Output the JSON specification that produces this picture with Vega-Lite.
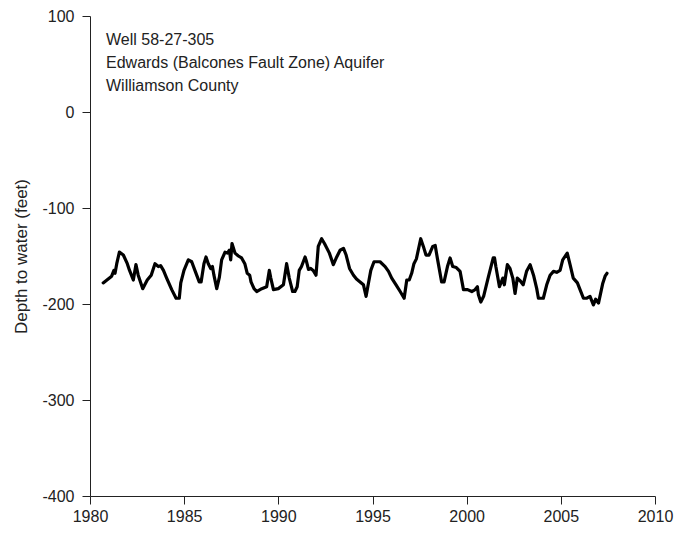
{
  "$schema": "https://vega.github.io/schema/vega-lite/v6.json",
  "width": 565,
  "height": 480,
  "autosize": {"type": "none"},
  "padding": {"left": 90, "top": 16, "right": 24, "bottom": 39},
  "config": {
    "view": {"stroke": null},
    "font": "Liberation Sans",
    "axis": {
      "grid": false,
      "domainColor": "#222222",
      "tickColor": "#222222",
      "labelColor": "#222222",
      "titleColor": "#222222",
      "labelFontSize": 16,
      "titleFontSize": 17,
      "titleFontWeight": "normal",
      "tickSize": 8,
      "labelPadding": 4,
      "labelFlush": false,
      "domainWidth": 1,
      "tickWidth": 1
    }
  },
  "layer": [
    {
      "data": {
        "values": [
          {"year": 1980.70, "depth": -178}, {"year": 1981.15, "depth": -171}, {"year": 1981.27, "depth": -165},
          {"year": 1981.33, "depth": -168}, {"year": 1981.42, "depth": -158}, {"year": 1981.56, "depth": -146},
          {"year": 1981.77, "depth": -149}, {"year": 1981.98, "depth": -158}, {"year": 1982.10, "depth": -165},
          {"year": 1982.30, "depth": -175}, {"year": 1982.44, "depth": -159}, {"year": 1982.56, "depth": -170},
          {"year": 1982.80, "depth": -184}, {"year": 1983.04, "depth": -175}, {"year": 1983.25, "depth": -170},
          {"year": 1983.45, "depth": -158}, {"year": 1983.63, "depth": -161}, {"year": 1983.75, "depth": -160},
          {"year": 1983.90, "depth": -165}, {"year": 1984.07, "depth": -173}, {"year": 1984.34, "depth": -185},
          {"year": 1984.57, "depth": -194}, {"year": 1984.74, "depth": -194}, {"year": 1984.82, "depth": -178},
          {"year": 1984.99, "depth": -165}, {"year": 1985.22, "depth": -154}, {"year": 1985.40, "depth": -156},
          {"year": 1985.57, "depth": -165}, {"year": 1985.80, "depth": -177}, {"year": 1985.90, "depth": -177},
          {"year": 1986.05, "depth": -158}, {"year": 1986.16, "depth": -151}, {"year": 1986.28, "depth": -158},
          {"year": 1986.41, "depth": -163}, {"year": 1986.50, "depth": -161}, {"year": 1986.58, "depth": -170},
          {"year": 1986.73, "depth": -184}, {"year": 1986.87, "depth": -172}, {"year": 1986.99, "depth": -154},
          {"year": 1987.17, "depth": -146}, {"year": 1987.30, "depth": -147}, {"year": 1987.40, "depth": -144},
          {"year": 1987.47, "depth": -154}, {"year": 1987.54, "depth": -137}, {"year": 1987.70, "depth": -147},
          {"year": 1987.88, "depth": -150}, {"year": 1988.05, "depth": -152}, {"year": 1988.22, "depth": -158},
          {"year": 1988.35, "depth": -168}, {"year": 1988.48, "depth": -170}, {"year": 1988.55, "depth": -177},
          {"year": 1988.71, "depth": -184}, {"year": 1988.85, "depth": -187}, {"year": 1989.12, "depth": -184},
          {"year": 1989.38, "depth": -182}, {"year": 1989.52, "depth": -165}, {"year": 1989.60, "depth": -173},
          {"year": 1989.74, "depth": -185}, {"year": 1990.00, "depth": -184}, {"year": 1990.27, "depth": -180},
          {"year": 1990.44, "depth": -158}, {"year": 1990.58, "depth": -173}, {"year": 1990.76, "depth": -187},
          {"year": 1990.88, "depth": -187}, {"year": 1991.00, "depth": -182}, {"year": 1991.11, "depth": -165},
          {"year": 1991.23, "depth": -161}, {"year": 1991.42, "depth": -151}, {"year": 1991.50, "depth": -156},
          {"year": 1991.60, "depth": -164}, {"year": 1991.72, "depth": -163}, {"year": 1991.85, "depth": -165},
          {"year": 1992.00, "depth": -170}, {"year": 1992.12, "depth": -140}, {"year": 1992.30, "depth": -132},
          {"year": 1992.45, "depth": -137}, {"year": 1992.71, "depth": -147}, {"year": 1992.92, "depth": -159},
          {"year": 1993.10, "depth": -151}, {"year": 1993.28, "depth": -144}, {"year": 1993.46, "depth": -142},
          {"year": 1993.60, "depth": -149}, {"year": 1993.78, "depth": -163}, {"year": 1993.99, "depth": -170},
          {"year": 1994.15, "depth": -174}, {"year": 1994.34, "depth": -177}, {"year": 1994.52, "depth": -180},
          {"year": 1994.66, "depth": -192}, {"year": 1994.75, "depth": -182}, {"year": 1994.91, "depth": -165},
          {"year": 1995.08, "depth": -156}, {"year": 1995.40, "depth": -156}, {"year": 1995.67, "depth": -161},
          {"year": 1995.85, "depth": -166}, {"year": 1996.02, "depth": -173}, {"year": 1996.25, "depth": -180},
          {"year": 1996.47, "depth": -187}, {"year": 1996.68, "depth": -194}, {"year": 1996.82, "depth": -175},
          {"year": 1996.95, "depth": -175}, {"year": 1997.08, "depth": -168}, {"year": 1997.20, "depth": -158},
          {"year": 1997.33, "depth": -153}, {"year": 1997.56, "depth": -132}, {"year": 1997.70, "depth": -140},
          {"year": 1997.84, "depth": -149}, {"year": 1998.00, "depth": -149}, {"year": 1998.20, "depth": -140},
          {"year": 1998.33, "depth": -139}, {"year": 1998.45, "depth": -153}, {"year": 1998.67, "depth": -177},
          {"year": 1998.80, "depth": -177}, {"year": 1998.98, "depth": -161}, {"year": 1999.12, "depth": -152},
          {"year": 1999.26, "depth": -161}, {"year": 1999.45, "depth": -162}, {"year": 1999.65, "depth": -166},
          {"year": 1999.83, "depth": -185}, {"year": 2000.05, "depth": -185}, {"year": 2000.27, "depth": -187},
          {"year": 2000.45, "depth": -185}, {"year": 2000.57, "depth": -182}, {"year": 2000.62, "depth": -190},
          {"year": 2000.75, "depth": -198}, {"year": 2000.90, "depth": -192}, {"year": 2001.15, "depth": -172},
          {"year": 2001.41, "depth": -152}, {"year": 2001.48, "depth": -152}, {"year": 2001.55, "depth": -161},
          {"year": 2001.74, "depth": -182}, {"year": 2001.92, "depth": -173}, {"year": 2002.00, "depth": -180},
          {"year": 2002.16, "depth": -159}, {"year": 2002.30, "depth": -163}, {"year": 2002.45, "depth": -173},
          {"year": 2002.57, "depth": -189}, {"year": 2002.69, "depth": -173}, {"year": 2002.85, "depth": -176},
          {"year": 2003.00, "depth": -180}, {"year": 2003.18, "depth": -166}, {"year": 2003.37, "depth": -159},
          {"year": 2003.55, "depth": -170}, {"year": 2003.72, "depth": -184}, {"year": 2003.81, "depth": -194},
          {"year": 2004.07, "depth": -194}, {"year": 2004.25, "depth": -180}, {"year": 2004.43, "depth": -170},
          {"year": 2004.61, "depth": -166}, {"year": 2004.78, "depth": -167}, {"year": 2004.96, "depth": -165},
          {"year": 2005.10, "depth": -154}, {"year": 2005.34, "depth": -147}, {"year": 2005.49, "depth": -159},
          {"year": 2005.66, "depth": -173}, {"year": 2005.88, "depth": -178}, {"year": 2006.02, "depth": -185},
          {"year": 2006.20, "depth": -194}, {"year": 2006.38, "depth": -194}, {"year": 2006.55, "depth": -192},
          {"year": 2006.73, "depth": -201}, {"year": 2006.85, "depth": -195}, {"year": 2007.00, "depth": -199},
          {"year": 2007.10, "depth": -190}, {"year": 2007.22, "depth": -179}, {"year": 2007.35, "depth": -171},
          {"year": 2007.45, "depth": -168}
        ]
      },
      "mark": {"type": "line", "color": "#000000", "strokeWidth": 3.2, "strokeJoin": "round", "strokeCap": "round"},
      "encoding": {
        "x": {
          "field": "year", "type": "quantitative",
          "scale": {"domain": [1980, 2010], "nice": false, "zero": false},
          "axis": {"values": [1980, 1985, 1990, 1995, 2000, 2005, 2010], "labelExpr": "'' + datum.value", "title": null}
        },
        "y": {
          "field": "depth", "type": "quantitative",
          "scale": {"domain": [-400, 100], "nice": false, "zero": false},
          "axis": {"values": [-400, -300, -200, -100, 0, 100], "labelExpr": "'' + datum.value", "labelPadding": 8, "title": "Depth to water (feet)", "titlePadding": 11}
        }
      }
    },
    {
      "data": {"values": [{"label": "Well 58-27-305"}]},
      "mark": {"type": "text", "align": "left", "baseline": "middle", "fontSize": 16, "color": "#222222", "font": "Liberation Sans"},
      "encoding": {
        "x": {"datum": 1980.85, "type": "quantitative"},
        "y": {"datum": 75, "type": "quantitative"},
        "text": {"field": "label"}
      }
    },
    {
      "data": {"values": [{"label": "Edwards (Balcones Fault Zone) Aquifer"}]},
      "mark": {"type": "text", "align": "left", "baseline": "middle", "fontSize": 16, "color": "#222222", "font": "Liberation Sans"},
      "encoding": {
        "x": {"datum": 1980.85, "type": "quantitative"},
        "y": {"datum": 51, "type": "quantitative"},
        "text": {"field": "label"}
      }
    },
    {
      "data": {"values": [{"label": "Williamson County"}]},
      "mark": {"type": "text", "align": "left", "baseline": "middle", "fontSize": 16, "color": "#222222", "font": "Liberation Sans"},
      "encoding": {
        "x": {"datum": 1980.85, "type": "quantitative"},
        "y": {"datum": 27, "type": "quantitative"},
        "text": {"field": "label"}
      }
    }
  ]
}
